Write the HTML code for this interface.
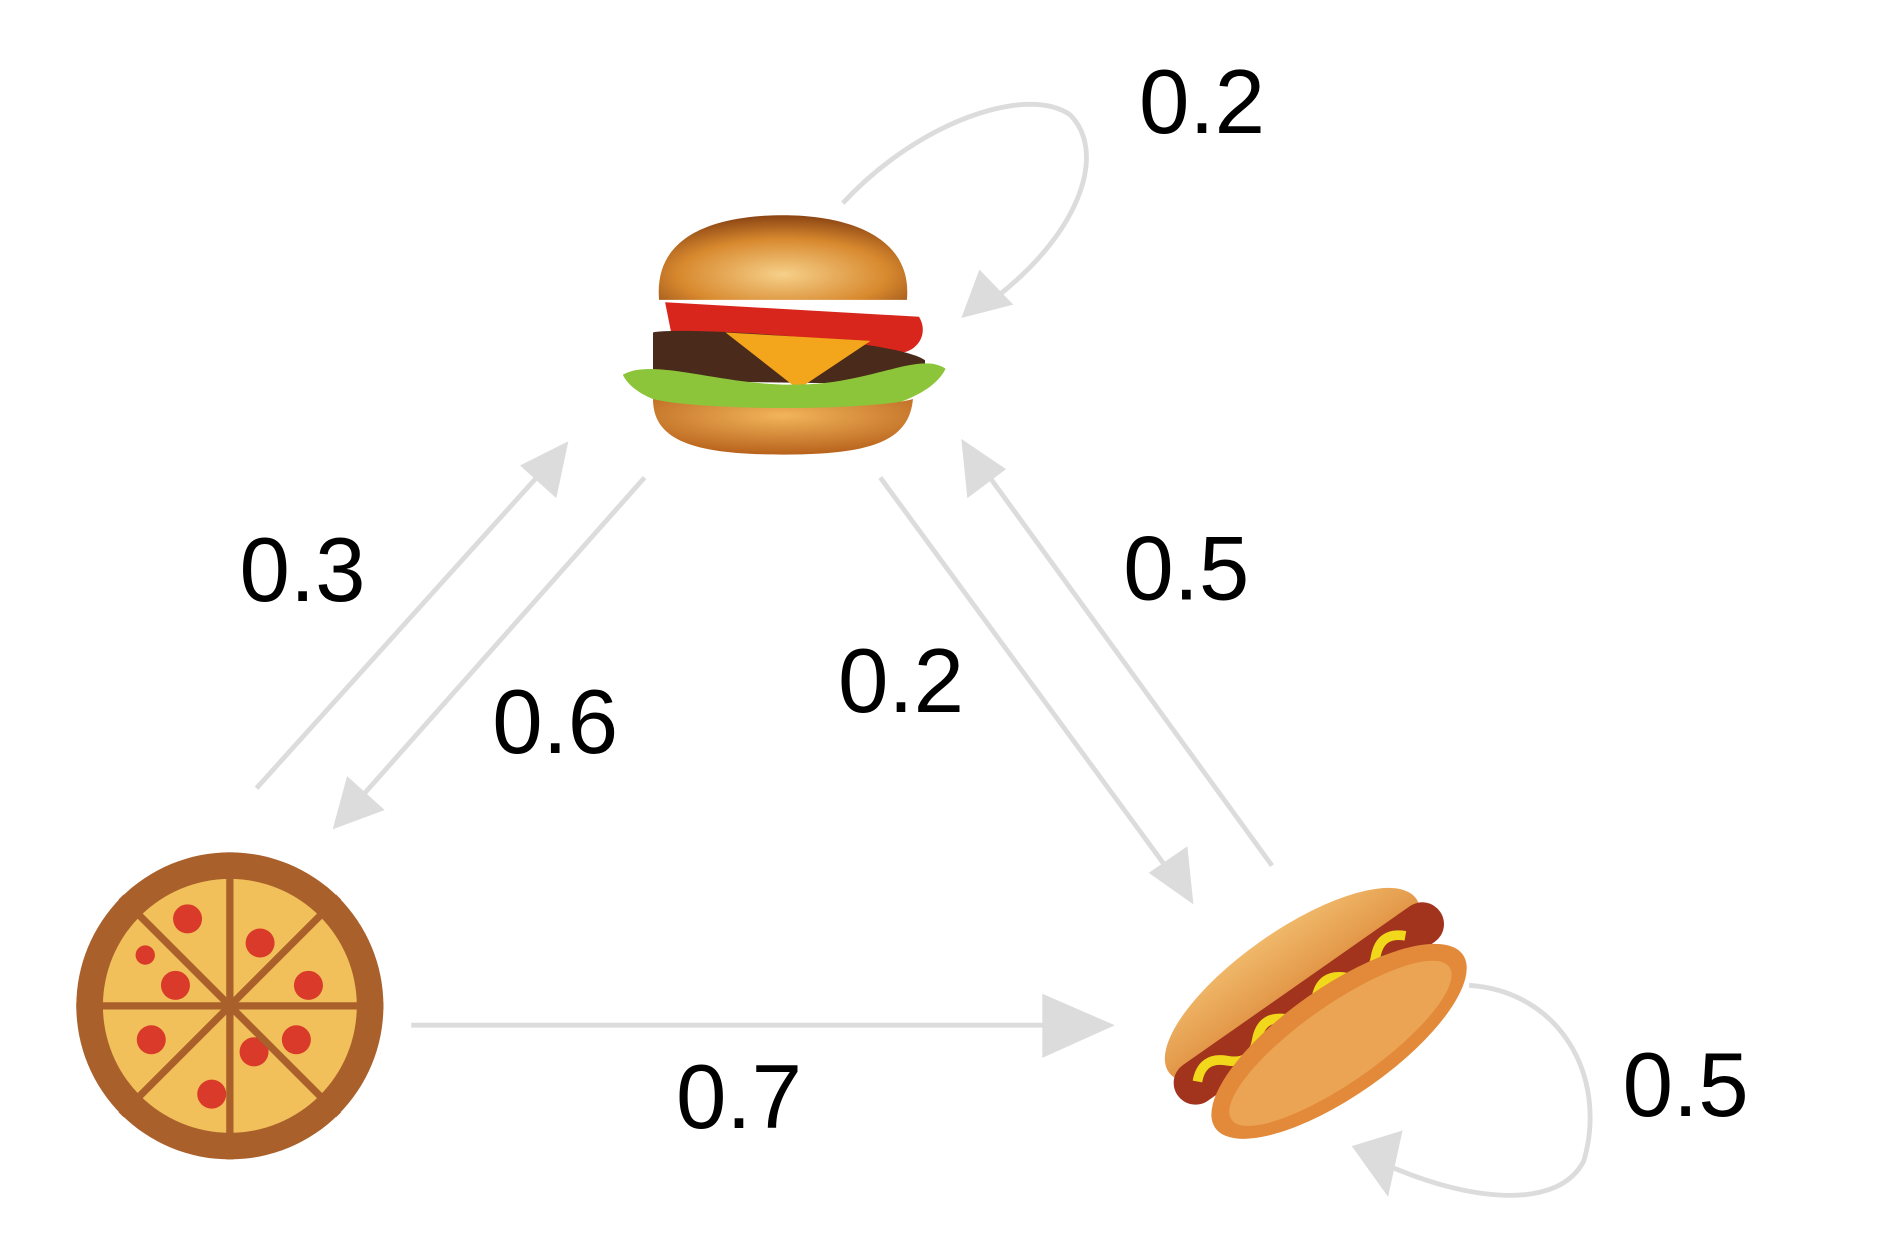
<!DOCTYPE html>
<html><head><meta charset="utf-8"><style>
html,body{margin:0;padding:0;background:#fff;}
svg{display:block;}
text{font-family:"Liberation Sans",Arial,sans-serif;font-size:75px;fill:#000;}
</style></head><body>
<svg width="1896" height="1238" viewBox="0 0 1568 1024" xmlns="http://www.w3.org/2000/svg">
<defs>
<radialGradient id="bun" cx="50%" cy="70%" r="70%"><stop offset="0" stop-color="#f6d08a"/><stop offset="0.6" stop-color="#d8892e"/><stop offset="1" stop-color="#8a4413"/></radialGradient>
<radialGradient id="bunb" cx="50%" cy="30%" r="70%"><stop offset="0" stop-color="#f2b55a"/><stop offset="1" stop-color="#b8621c"/></radialGradient>
<linearGradient id="dough" x1="0" y1="0" x2="0" y2="1"><stop offset="0" stop-color="#f0b86a"/><stop offset="1" stop-color="#d77a2a"/></linearGradient>
</defs>
<g stroke="#dcdcdc" stroke-width="4" fill="none">
<line x1="212" y1="652" x2="450" y2="388"/>
<line x1="533" y1="395" x2="298" y2="660"/>
<line x1="728" y1="395" x2="968" y2="722"/>
<line x1="1052" y1="716" x2="815" y2="390"/>
<line x1="340" y1="848" x2="880" y2="848"/>
<path d="M697 168 C760 100 850 70 885 95 C915 125 895 190 825 245"/>
<path d="M1215 815 C1290 820 1330 890 1310 960 C1290 1000 1220 995 1150 965"/>
</g>
<g fill="#dcdcdc">
<polygon points="470,365 430,385 460,412"/>
<polygon points="275,686 318,670 287,642"/>
<polygon points="987,748 950,722 982,700"/>
<polygon points="795,363 832,388 800,412"/>
<polygon points="922,848 862,822 862,875"/>
<polygon points="795,263 810,223 838,252"/>
<polygon points="1118,948 1160,935 1148,990"/>
</g>
<g>
<path d="M545 248 C540 190 600 178 648 178 C700 178 755 195 750 248 Z" fill="url(#bun)"/>
<path d="M550 250 L760 262 C768 275 760 290 745 292 L555 275 Z" fill="#d8261c"/>
<path d="M540 275 C560 270 740 280 765 298 L765 318 L540 315 Z" fill="#4a2a1a"/>
<path d="M600 275 L720 282 L660 322 Z" fill="#f3a51c"/>
<path d="M515 310 C540 295 600 320 660 318 C720 318 760 290 782 305 C770 330 720 345 660 345 C600 345 530 340 515 310 Z" fill="#8cc43a"/>
<path d="M540 330 C580 340 720 340 755 330 C752 365 720 376 648 376 C575 376 540 365 540 330 Z" fill="url(#bunb)"/>
</g>
<g>
<circle cx="190" cy="832" r="127" fill="#a9602b"/>
<circle cx="190" cy="832" r="105" fill="#f1c05a"/>
<g fill="#d93a2a">
<circle cx="155" cy="760" r="12"/><circle cx="215" cy="780" r="12"/><circle cx="255" cy="815" r="12"/>
<circle cx="145" cy="815" r="12"/><circle cx="125" cy="860" r="12"/><circle cx="175" cy="905" r="12"/>
<circle cx="210" cy="870" r="12"/><circle cx="245" cy="860" r="12"/><circle cx="120" cy="790" r="8"/>
</g>
<g stroke="#a9602b" stroke-width="6">
<line x1="190" y1="705" x2="190" y2="959"/><line x1="63" y1="832" x2="317" y2="832"/>
<line x1="100" y1="742" x2="280" y2="922"/><line x1="280" y1="742" x2="100" y2="922"/>
</g>
</g>
<g transform="rotate(-35 1085 838)">
<ellipse cx="1085" cy="810" rx="125" ry="45" fill="url(#dough)"/>
<rect x="955" y="812" width="265" height="36" rx="18" fill="#a2341e"/>
<path d="M975 830 q15 -15 30 0 q15 15 30 0 q15 -15 30 0 q15 15 30 0 q15 -15 30 0 q15 15 30 0 q15 -15 30 0" stroke="#f1d81a" stroke-width="8" fill="none"/>
<ellipse cx="1090" cy="870" rx="125" ry="45" fill="#e2893a"/>
<ellipse cx="1090" cy="872" rx="110" ry="32" fill="#eba453"/>
</g>
<text x="942" y="110">0.2</text>
<text x="198" y="497">0.3</text>
<text x="407" y="623">0.6</text>
<text x="693" y="589">0.2</text>
<text x="929" y="496">0.5</text>
<text x="559" y="933">0.7</text>
<text x="1342" y="923">0.5</text>
</svg>
</body></html>
